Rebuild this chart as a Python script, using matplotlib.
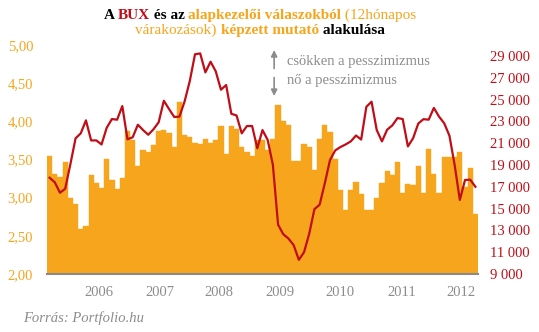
import numpy as np
import matplotlib.pyplot as plt
import matplotlib.ticker as mticker

plt.rcParams['font.family'] = ['Liberation Serif', 'DejaVu Serif']

# fund manager sentiment index (left axis), monthly bars
index_values = [
    3.54, 3.31, 3.27, 3.47, 3.00, 2.92, 2.59, 2.63, 3.30, 3.19,
    3.13, 3.51, 3.23, 3.11, 3.26, 3.87, 3.75, 3.41, 3.63, 3.60,
    3.69, 3.87, 3.89, 3.85, 3.66, 4.25, 3.82, 3.80, 3.72, 3.70,
    3.77, 3.72, 3.76, 3.94, 3.57, 3.94, 3.90, 3.66, 3.60, 3.54,
    3.76, 3.76, 3.62, 3.77, 4.21, 4.00, 3.95, 3.48, 3.48, 3.70,
    3.67, 3.36, 3.77, 3.95, 3.86, 3.51, 3.10, 2.84, 3.10, 3.21,
    3.05, 2.84, 2.84, 3.00, 3.19, 3.35, 3.30, 3.47, 3.06, 3.18,
    3.16, 3.41, 3.06, 3.64, 3.31, 3.06, 3.53, 3.53, 3.53, 3.60,
    3.14, 3.39, 2.79]

# BUX index (right axis)
bux = [
    17830, 17410, 16450, 16820, 19060, 21440, 21900, 23090, 21250, 21250,
    20880, 22410, 23210, 23150, 24400, 21350, 21540, 22690, 22200, 21770,
    22270, 22910, 24890, 24130, 23400, 23430, 24830, 26700, 29150, 29230,
    27490, 28470, 27580, 25900, 26330, 23690, 23540, 21900, 22570, 22570,
    20530, 22200, 21290, 19000, 13520, 12650, 12250, 11650, 10300, 11000,
    12700, 14950, 15350, 17320, 19450, 20330, 20640, 20880, 21160, 21700,
    21330, 24330, 24800, 22200, 21160, 22230, 22630, 23300, 23210, 20700,
    21450, 22800, 23200, 23150, 24230, 23430, 22820, 21680, 19000, 15790,
    17620, 17650, 17000]

year_labels = ['2006', '2007', '2008', '2009', '2010', '2011', '2012']
year_pos = [9.4, 21.3, 32.6, 44.4, 56.0, 67.9, 79.3]

ORANGE = '#f7a51d'
RED = '#c10d17'
GRAY = '#8c8c8c'

W, H = 539, 332
fig = plt.figure(figsize=(W / 100, H / 100), dpi=100)
ax = fig.add_axes([47 / W, 1 - 274 / H, 431 / W, 229 / H])

x = np.arange(len(index_values))
ax.bar(x, index_values, width=1.0, color=ORANGE, edgecolor=ORANGE, linewidth=0.3)
ax.set_xlim(-0.5, len(index_values) - 0.5)
ax.set_ylim(2, 5)
ax.set_yticks(np.arange(2, 5.01, 0.5))
ax.yaxis.set_major_formatter(mticker.FuncFormatter(lambda v, p: f'{v:.2f}'.replace('.', ',')))
ax.set_xticks(year_pos, year_labels)
ax.tick_params(axis='y', length=0, pad=10, labelcolor=ORANGE, labelsize=10.5)
ax.tick_params(axis='x', length=0, pad=9, labelcolor=GRAY, labelsize=10.5)
for s in ['top', 'left', 'right']:
    ax.spines[s].set_visible(False)
ax.spines['bottom'].set_color('#8a8a8a')
ax.spines['bottom'].set_linewidth(1.5)

ax2 = ax.twinx()
ax2.plot(x, bux, color=RED, linewidth=1.6)
ax2.set_ylim(9000, 30000)
ax2.set_yticks(np.arange(9000, 29001, 2000))
ax2.yaxis.set_major_formatter(mticker.FuncFormatter(lambda v, p: f'{int(v):,}'.replace(',', ' ')))
ax2.tick_params(axis='y', length=0, pad=9, labelcolor=RED, labelsize=10.5)
for s in ax2.spines.values():
    s.set_visible(False)

# pessimism arrows and notes
ax.annotate('', xy=(0.527, 0.99), xytext=(0.527, 0.885), xycoords='axes fraction',
            arrowprops=dict(arrowstyle='-|>', color=GRAY, lw=1.2, mutation_scale=9))
ax.annotate('', xy=(0.527, 0.765), xytext=(0.527, 0.87), xycoords='axes fraction',
            arrowprops=dict(arrowstyle='-|>', color=GRAY, lw=1.2, mutation_scale=9))
ax.text(0.556, 0.927, 'csökken a pesszimizmus', transform=ax.transAxes,
        color=GRAY, fontsize=10.5, va='center')
ax.text(0.556, 0.844, 'nő a pesszimizmus', transform=ax.transAxes,
        color=GRAY, fontsize=10.5, va='center')

# multi-coloured title
def title_line(y, pieces, size=11):
    texts = [fig.text(0, y, s, color=c, fontweight=w, fontsize=size, va='baseline')
             for s, c, w in pieces]
    fig.canvas.draw()
    r = fig.canvas.get_renderer()
    widths = [t.get_window_extent(r).width for t in texts]
    x0 = 260 - sum(widths) / 2
    for t, w in zip(texts, widths):
        t.set_x(x0 / W)
        x0 += w

title_line(1 - 19 / H, [('A ', 'black', 'bold'), ('BUX', RED, 'bold'),
                        (' és az ', 'black', 'bold'),
                        ('alapkezelői válaszokból', ORANGE, 'bold'),
                        (' (12hónapos', ORANGE, 'normal')])
title_line(1 - 34 / H, [('várakozások) ', ORANGE, 'normal'),
                        ('képzett mutató', ORANGE, 'bold'),
                        (' alakulása', 'black', 'bold')])

fig.text(23 / W, 1 - 318 / H, 'Forrás: Portfolio.hu', style='italic',
         color=GRAY, fontsize=10.5, va='center')

fig.savefig('out.png', dpi=100)
